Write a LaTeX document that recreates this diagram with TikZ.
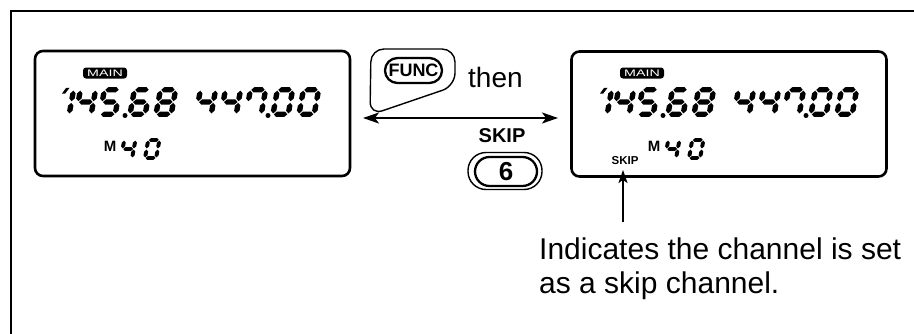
\documentclass[tikz,border=0pt]{standalone}
\usepackage{fontspec}
\setmainfont{Liberation Sans}
\usepackage{graphicx}
\usetikzlibrary{arrows.meta}
% seven-segment pieces as hexagons (unit cell: width 0.62, height 1)
\def\sga{(0.035,1)--(0.145,1.11)--(0.475,1.11)--(0.585,1)--(0.475,0.89)--(0.145,0.89)--cycle}
\def\sgg{(0.035,0.5)--(0.145,0.61)--(0.475,0.61)--(0.585,0.5)--(0.475,0.39)--(0.145,0.39)--cycle}
\def\sgd{(0.035,0)--(0.145,0.11)--(0.475,0.11)--(0.585,0)--(0.475,-0.11)--(0.145,-0.11)--cycle}
\def\sgf{(0,0.965)--(0.11,0.855)--(0.11,0.645)--(0,0.535)--(-0.11,0.645)--(-0.11,0.855)--cycle}
\def\sgb{(0.62,0.965)--(0.73,0.855)--(0.73,0.645)--(0.62,0.535)--(0.51,0.645)--(0.51,0.855)--cycle}
\def\sge{(0,0.465)--(0.11,0.355)--(0.11,0.145)--(0,0.035)--(-0.11,0.145)--(-0.11,0.355)--cycle}
\def\sgc{(0.62,0.465)--(0.73,0.355)--(0.73,0.145)--(0.62,0.035)--(0.51,0.145)--(0.51,0.355)--cycle}
\def\sgh{(0.30,1.08)--(0.44,1.08)--(0.30,0.84)--(0.17,0.84)--cycle}
\newcommand\lcdDig[4]{%
  \begin{scope}[shift={(#1,#2)},xslant=0.18,scale=#3]
    \foreach \s in {#4}{\fill \csname sg\s\endcsname;}
  \end{scope}}
\newcommand\lcdBig[1]{%
  \lcdDig{#1+54}{218.7}{24.5}{b,c,h}
  \lcdDig{#1+76}{218.7}{24.5}{f,g,b,c}
  \lcdDig{#1+100}{218.7}{24.5}{a,f,g,c,d}
  \fill (#1+125,217.5) circle (2.5pt);
  \lcdDig{#1+130}{218.7}{24.5}{a,f,g,e,c,d}
  \lcdDig{#1+156}{218.7}{24.5}{a,b,c,d,e,f,g}
  \lcdDig{#1+196}{218.7}{24.5}{f,g,b,c}
  \lcdDig{#1+221}{218.7}{24.5}{f,g,b,c}
  \lcdDig{#1+246}{218.7}{24.5}{a,b,c,f}
  \fill (#1+268,217.5) circle (2.5pt);
  \lcdDig{#1+273}{218.7}{24.5}{a,b,c,d,e,f}
  \lcdDig{#1+299}{218.7}{24.5}{a,b,c,d,e,f}}
\newcommand\lcdSmall[1]{%
  \lcdDig{#1+121}{175}{18}{f,g,b,c}
  \lcdDig{#1+145}{175}{18}{a,b,c,d,e,f}}
\tikzset{
  frameline/.style={line width=2.6pt},
  lcdbox/.style={draw,line width=2.6pt,rounded corners=8pt,minimum width=315pt,minimum height=125pt,inner sep=0pt},
  mainlbl/.style={fill=black,text=white,rounded corners=3pt,minimum width=44pt,minimum height=11pt,inner sep=0pt,text height=7pt,text depth=0pt,font=\fontsize{9.5}{9.5}\selectfont},
  btnouter/.style={draw,line width=1.4pt},
  btninner/.style={draw,line width=2.3pt},
  arr/.style={line width=1.9pt},
  smallm/.style={inner sep=0pt,font=\fontsize{15}{15}\selectfont\bfseries},
}
\begin{document}
\begin{tikzpicture}[x=1pt,y=1pt]
\useasboundingbox (0,0) rectangle (914,333);
% outer frame (open to right and bottom)
\draw[frameline] (11,-10) -- (11,322) -- (930,322);
% LCD boxes
\node[lcdbox] (lcdL) at (192.5,219.5) {};
\node[lcdbox] (lcdR) at (729,219) {};
\node[mainlbl] (mainL) at (105,260) {\scalebox{1.5}[1]{MAIN}};
\node[mainlbl] (mainR) at (642,260) {\scalebox{1.5}[1]{MAIN}};
\lcdBig{0}
\lcdBig{538}
\node[smallm] (mL) at (110,187) {M};
\lcdSmall{0}
\node[smallm] (mR) at (654,187) {M};
\lcdSmall{544}
\node[inner sep=0pt,font=\fontsize{11.5}{11.5}\selectfont\bfseries] (skipsm) at (625,172) {SKIP};
% FUNC key
\draw[btnouter,rounded corners=13pt] (371,284) -- (455,284) -- (455,247) -- (370,218) -- cycle;
\node[btninner,rounded corners=12.5pt,minimum width=57pt,minimum height=25pt,inner sep=0pt,font=\fontsize{18}{18}\selectfont\bfseries] (func) at (413.5,262.5) {FUNC};
\node[anchor=base west,inner sep=0pt,font=\fontsize{28}{28}\selectfont] (then) at (468,246) {then};
% double arrow
\coordinate (al) at (363,215);
\coordinate (ar) at (558,215);
\draw[arr,{Stealth[length=16pt,width=11pt,inset=4pt]}-{Stealth[length=16pt,width=11pt,inset=4pt]}] (al) -- (ar);
% SKIP / 6 key
\node[inner sep=0pt,font=\fontsize{20}{20}\selectfont\bfseries] (skip) at (502,197) {SKIP};
\node[btnouter,rounded corners=18pt,minimum width=74pt,minimum height=37pt,inner sep=0pt] (sixo) at (505,162) {};
\node[btninner,rounded corners=14.5pt,minimum width=62pt,minimum height=29pt,inner sep=0pt,font=\fontsize{26}{26}\selectfont\bfseries] (six) at (506,161.5) {6};
% pointer
\coordinate (ptr) at (623,111);
\coordinate (ptrtip) at (623,163);
\draw[arr,-{Stealth[length=13pt,width=9pt,inset=3pt]}] (ptr) -- (ptrtip);
\node[anchor=base west,inner sep=0pt,font=\fontsize{30}{30}\selectfont] (ind1) at (539,74) {Indicates the channel is set};
\node[anchor=base west,inner sep=0pt,font=\fontsize{30}{30}\selectfont] (ind2) at (539,40) {as a skip channel.};
\end{tikzpicture}
\end{document}
